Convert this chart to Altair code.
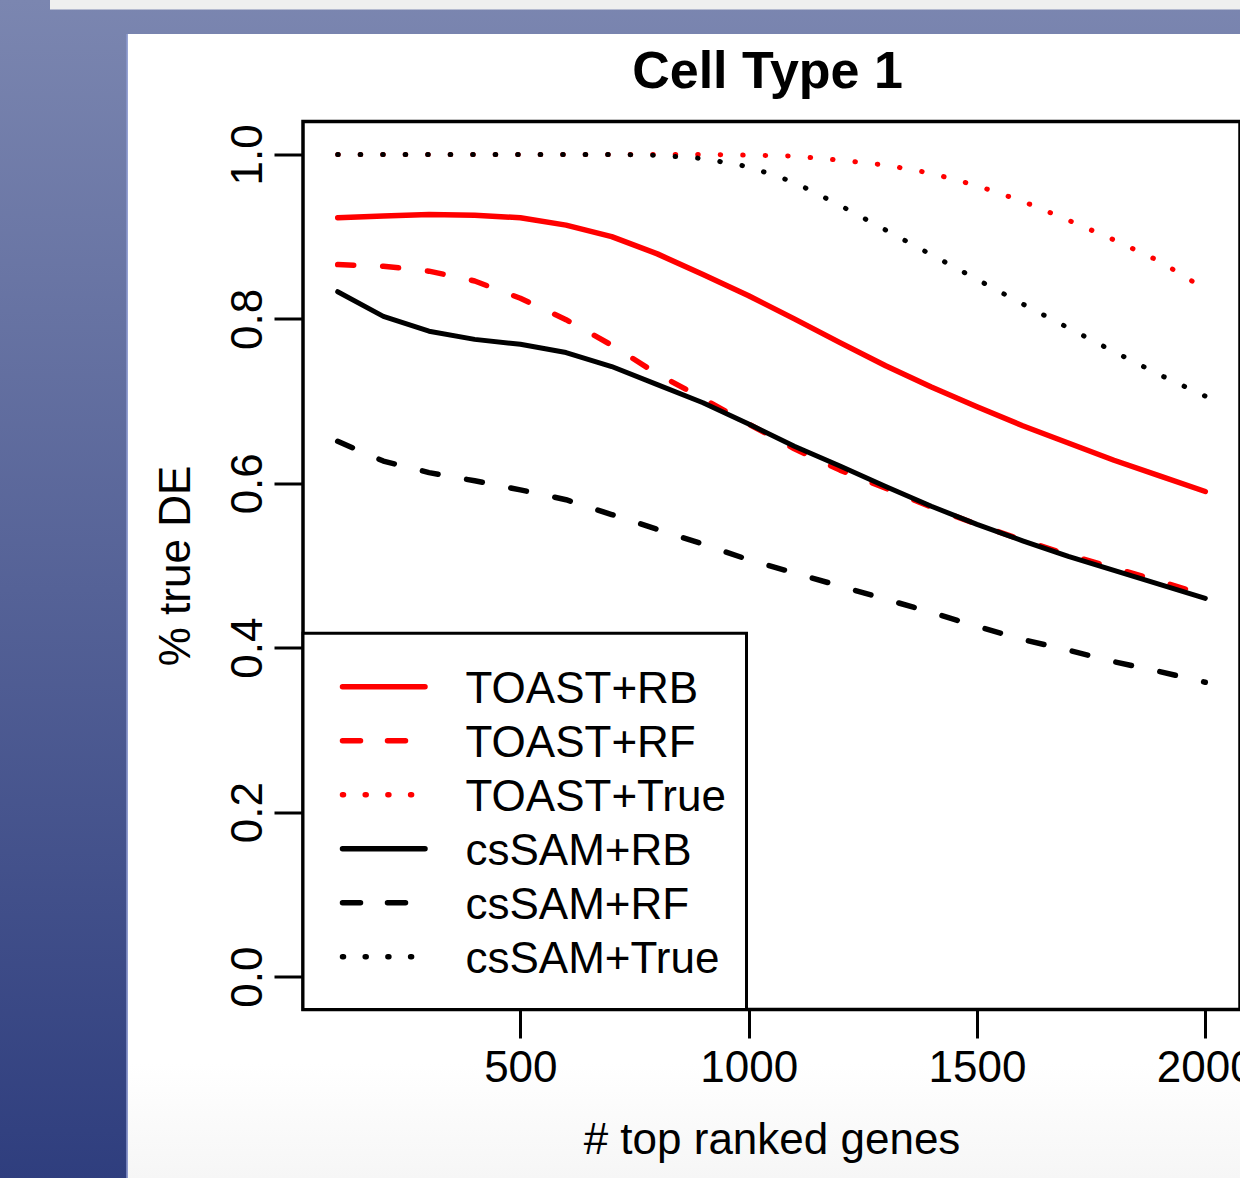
import altair as alt
import pandas as pd

TITLE = "Cell Type 1"
X_TITLE = "# top ranked genes"
Y_TITLE = "% true DE"
FONT = "Liberation Sans"

genes = [100, 200, 300, 400, 500, 600, 700, 800, 900, 1000,
         1100, 1200, 1300, 1400, 1500, 1600, 1700, 1800, 1900, 2000]

toast_rb = [0.923, 0.925, 0.927, 0.926, 0.923, 0.914, 0.900, 0.879, 0.854, 0.828,
            0.800, 0.771, 0.743, 0.717, 0.693, 0.670, 0.649, 0.628, 0.609, 0.590]
toast_rf = [0.866, 0.864, 0.858, 0.846, 0.825, 0.799, 0.768, 0.733, 0.703, 0.672,
            0.642, 0.616, 0.594, 0.571, 0.550, 0.531, 0.513, 0.497, 0.481, 0.464]
toast_true = [1.0, 1.0, 1.0, 1.0, 1.0, 1.0, 1.0, 1.0, 1.0, 0.999,
              0.998, 0.993, 0.987, 0.977, 0.962, 0.943, 0.920, 0.896, 0.870, 0.836]
cssam_rb = [0.833, 0.803, 0.785, 0.775, 0.769, 0.759, 0.742, 0.720, 0.698, 0.672,
            0.645, 0.621, 0.596, 0.572, 0.550, 0.530, 0.511, 0.494, 0.477, 0.460]
cssam_rf = [0.651, 0.627, 0.613, 0.603, 0.592, 0.580, 0.562, 0.544, 0.526, 0.507,
            0.491, 0.475, 0.459, 0.443, 0.426, 0.410, 0.397, 0.383, 0.371, 0.358]
cssam_true = [1.0, 1.0, 1.0, 1.0, 1.0, 1.0, 1.0, 0.999, 0.995, 0.985,
              0.966, 0.938, 0.908, 0.878, 0.848, 0.818, 0.789, 0.760, 0.732, 0.706]

series = ["TOAST+RB", "TOAST+RF", "TOAST+True", "csSAM+RB", "csSAM+RF", "csSAM+True"]
series_values = [toast_rb, toast_rf, toast_true, cssam_rb, cssam_rf, cssam_true]
colors = ["#ff0000", "#ff0000", "#ff0000", "#000000", "#000000", "#000000"]
plot_dashes = [None, [16, 29], [0.5, 22], None, [16, 29], [0.5, 22]]
plot_widths = [5.5, 5.5, 5, 5, 5.5, 5]
legend_dashes = [[1, 0], [18, 27], [1, 21.7], [1, 0], [18, 27], [1, 21.7]]

x_ticks = [500, 1000, 1500, 2000]
y_ticks = [0.0, 0.2, 0.4, 0.6, 0.8, 1.0]

rows = []
for name, vals in zip(series, series_values):
    for g, v in zip(genes, vals):
        rows.append({"genes": g, "value": v, "method": name})
df = pd.DataFrame(rows)

W, H = 937, 888

x_enc = alt.X(
    "genes:Q", title=X_TITLE,
    scale=alt.Scale(domain=[24, 2076], nice=False, zero=False),
    axis=alt.Axis(values=x_ticks, format="d", domain=False, grid=False,
                  tickSize=28.5, tickWidth=3, tickColor="black",
                  labelFont=FONT, labelFontSize=44, labelColor="black",
                  labelPadding=43.7, labelBaseline="alphabetic", labelAlign="center",
                  labelFlush=False, labelOverlap=False,
                  titleFont=FONT, titleFontSize=44, titleFontWeight="normal",
                  titleColor="black", titleX=468.5, titleY=143.5,
                  titleAlign="center", titleBaseline="alphabetic", titleAngle=0,
                  zindex=1))
y_enc = alt.Y(
    "value:Q", title=Y_TITLE,
    scale=alt.Scale(domain=[-0.04, 1.04], nice=False, zero=False),
    axis=alt.Axis(values=y_ticks, format=".1f", domain=False, grid=False,
                  tickSize=29, tickWidth=3, tickColor="black",
                  labelFont=FONT, labelFontSize=44, labelColor="black",
                  labelPadding=12.3, labelAngle=270, labelBaseline="alphabetic",
                  labelAlign="center", labelFlush=False, labelOverlap=False,
                  titleFont=FONT, titleFontSize=44, titleFontWeight="normal",
                  titleColor="black", titleX=-113.5, titleY=444,
                  titleAlign="center", titleBaseline="alphabetic", titleAngle=270,
                  zindex=1))

one = pd.DataFrame({"k": [0]})

bg = alt.Chart(one).mark_rect(
    fill=alt.LinearGradient(gradient="linear", x1=0, x2=0, y1=0, y2=1,
                            stops=[alt.GradientStop(color="#7b86b0", offset=0),
                                   alt.GradientStop(color="#2f3e7e", offset=1)]),
    strokeWidth=0
).encode(x=alt.value(-303), x2=alt.value(W), y=alt.value(-121.5), y2=alt.value(1056.5))

graybar = alt.Chart(one).mark_rect(fill="#efefef", strokeWidth=0).encode(
    x=alt.value(-253), x2=alt.value(W), y=alt.value(-121.5), y2=alt.value(-112))

white = alt.Chart(one).mark_rect(
    fill=alt.LinearGradient(gradient="linear", x1=0, x2=0, y1=0, y2=1,
                            stops=[alt.GradientStop(color="#ffffff", offset=0),
                                   alt.GradientStop(color="#ffffff", offset=0.9),
                                   alt.GradientStop(color="#f6f6f6", offset=1)]),
    strokeWidth=0
).encode(x=alt.value(-175.5), x2=alt.value(W), y=alt.value(-87.5), y2=alt.value(1056.5))

sepline = alt.Chart(one).mark_rule(color="#8d9ad0", strokeWidth=1.5).encode(
    x=alt.value(-176), y=alt.value(-87.5), y2=alt.value(1056.5))

lines = []
for name, col, dash, w in zip(series, colors, plot_dashes, plot_widths):
    kw = dict(color=col, strokeWidth=w, strokeCap="round", strokeJoin="round")
    if dash is not None:
        kw["strokeDash"] = dash
    lines.append(
        alt.Chart(df).transform_filter(alt.datum.method == name)
        .mark_line(**kw).encode(x=x_enc, y=y_enc)
    )

frame = alt.Chart(one).mark_rect(fillOpacity=0, stroke="black", strokeWidth=3.5).encode(
    x=alt.value(0), x2=alt.value(W), y=alt.value(0), y2=alt.value(H))

title_df = pd.DataFrame({"t": [TITLE]})
title_text = alt.Chart(title_df).mark_text(
    font=FONT, fontSize=52, fontWeight="bold", color="black",
    align="center", baseline="alphabetic"
).encode(x=alt.value(464.5), y=alt.value(-33.5), text="t:N")

main = alt.layer(bg, graybar, white, sepline, *lines, frame, title_text)

leg_df = pd.DataFrame({"method": series})
leg_y = alt.Y("method:N", sort=series,
              scale=alt.Scale(type="point", domain=series, range=[565.2, 835.2], padding=0),
              axis=None)

leg_box = alt.Chart(one).mark_rect(fill="white", stroke="black", strokeWidth=3).encode(
    x=alt.value(0), x2=alt.value(443.5), y=alt.value(511.8), y2=alt.value(H))

leg_rules = alt.Chart(leg_df).mark_rule(strokeWidth=5.5, strokeCap="round").encode(
    x=alt.value(39.5), x2=alt.value(122),
    y=leg_y,
    color=alt.Color("method:N", scale=alt.Scale(domain=series, range=colors), legend=None),
    strokeDash=alt.StrokeDash("method:N", scale=alt.Scale(domain=series, range=legend_dashes),
                              legend=None),
)

leg_text = alt.Chart(leg_df).mark_text(
    font=FONT, fontSize=44, color="black", align="left", baseline="alphabetic", dy=16.5
).encode(x=alt.value(162.5), y=leg_y, text="method:N")

legend = alt.layer(leg_box, leg_rules, leg_text)

chart = alt.layer(main, legend).resolve_scale(
    y="independent", color="independent", strokeDash="independent"
).properties(
    width=W, height=H,
    padding={"left": 303, "top": 121.5, "right": 0, "bottom": 168.5},
    autosize=alt.AutoSizeParams(type="none"),
).configure_view(strokeWidth=0)

chart.save("out.html", embed_options={"renderer": "svg", "actions": False})
